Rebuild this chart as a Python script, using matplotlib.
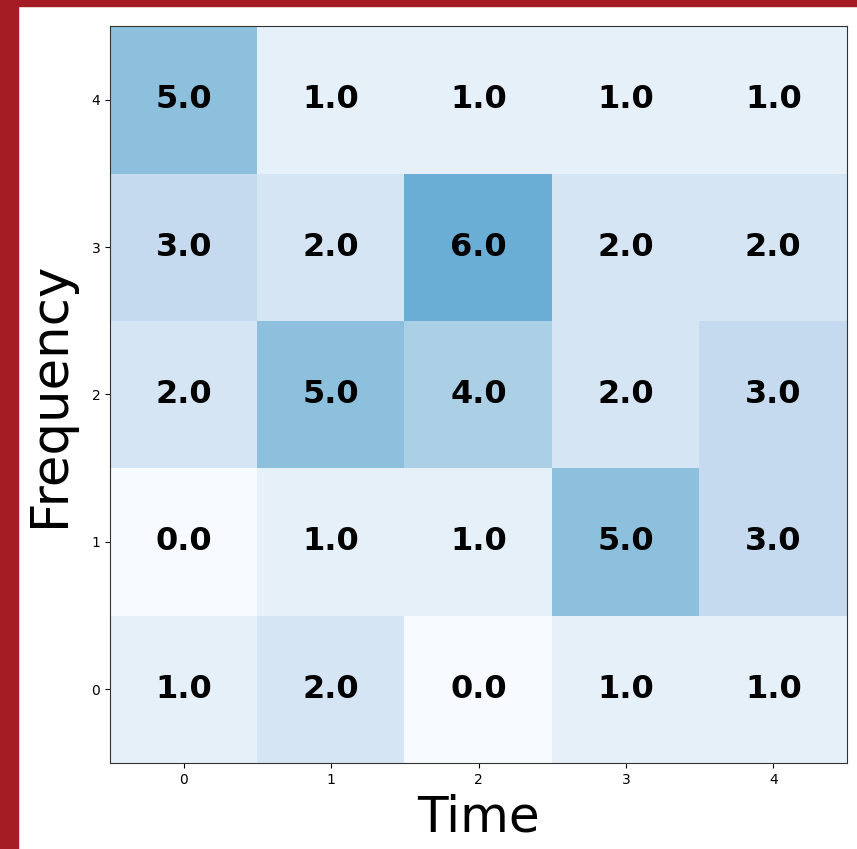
import numpy as np
import matplotlib
matplotlib.use("Agg")
import matplotlib.pyplot as plt
from matplotlib.patches import Rectangle

# counts per (frequency, time) cell, row 0 = frequency 0
counts = [
    [1, 2, 0, 1, 1],
    [0, 1, 1, 5, 3],
    [2, 5, 4, 2, 3],
    [3, 2, 6, 2, 2],
    [5, 1, 1, 1, 1],
]
time_ticks = [0, 1, 2, 3, 4]
freq_ticks = [0, 1, 2, 3, 4]

data = np.array(counts, dtype=float)

fig = plt.figure(figsize=(8.57, 8.49), dpi=100)
# red frame at the left and top edge
fig.patches.append(Rectangle((0, 0), 18 / 857, 1, transform=fig.transFigure,
                             color="#a51c24", zorder=-1))
fig.patches.append(Rectangle((0, 1 - 6 / 849), 1, 6 / 849, transform=fig.transFigure,
                             color="#a51c24", zorder=-1))

ax = fig.add_axes([110 / 857, 1 - 763 / 849, 737 / 857, 737 / 849])
ax.imshow(data, cmap="Blues", vmin=0, vmax=12, origin="lower", aspect="auto")

for i in range(data.shape[0]):
    for j in range(data.shape[1]):
        ax.text(j, i, "%.1f" % data[i, j], ha="center", va="center",
                fontsize=23, fontweight="bold", color="black")

ax.set_xticks(time_ticks)
ax.set_yticks(freq_ticks)
ax.tick_params(labelsize=10)
for s in ax.spines.values():
    s.set_color("#333333")
ax.set_xlabel("Time", fontsize=36, labelpad=5)
ax.set_ylabel("Frequency", fontsize=37, labelpad=12)

fig.savefig("out.png", dpi=100)
